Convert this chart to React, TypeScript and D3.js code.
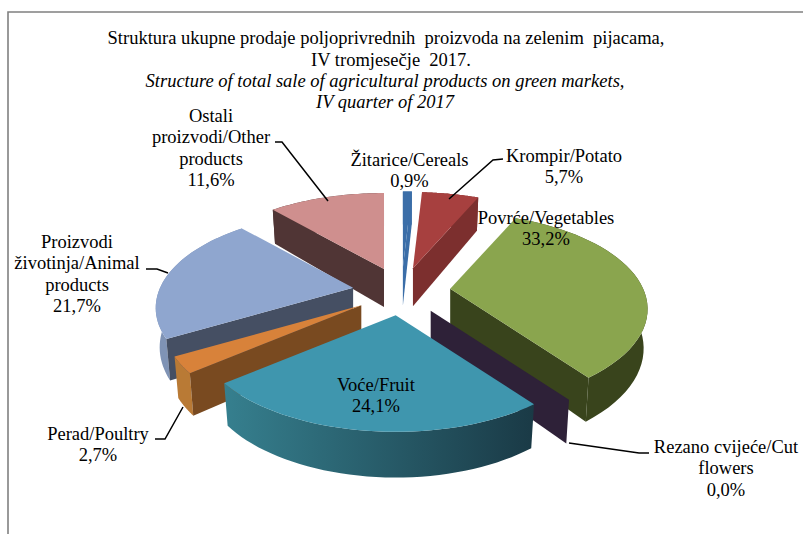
import React from "react";
import * as d3 from "d3";

const W = 803, H = 534;
const categories = ["Žitarice/Cereals", "Krompir/Potato", "Povrće/Vegetables", "Rezano cvijeće/Cut flowers", "Voće/Fruit", "Perad/Poultry", "Proizvodi životinja/Animal products", "Ostali proizvodi/Other products"];
const shares = [0.9, 5.7, 33.2, 0.0, 24.1, 2.7, 21.7, 11.6];
const topColors = ["#3b6ea8", "#a7403f", "#8aa54e", "#2e2138", "#3f96ae", "#d8823a", "#8fa6cf", "#cf8f8e"];
const faceColors = ["#3b6ea8", "#7c2f2e", "#39441c", "#2e2138", "#2f7488", "#794a20", "#454f63", "#503535"];
const rimColors = ["#3b6ea8", "#7c2f2e", "#39441c", "#2e2138", "url(#tealRim)", "#b97a35", "#7f93b5", "#503535"];
const drawOrder = [7, 0, 1, 2, 3, 6, 5, 4];
const titleLines = [
  { t: "Struktura ukupne prodaje poljoprivrednih  proizvoda na zelenim  pijacama,", x: 386, y: 44, i: false },
  { t: "IV tromjesečje  2017.", x: 391, y: 66, i: false },
  { t: "Structure of total sale of agricultural products on green markets,", x: 385, y: 87, i: true },
  { t: "IV quarter of 2017", x: 385, y: 108, i: true },
];
const labels = [
  { x: 211, y: 122, lines: ["Ostali", "proizvodi/Other", "products", "11,6%"] },
  { x: 409.5, y: 166, lines: ["Žitarice/Cereals", "0,9%"] },
  { x: 564, y: 162, lines: ["Krompir/Potato", "5,7%"] },
  { x: 546, y: 224, lines: ["Povrće/Vegetables", "33,2%"] },
  { x: 376, y: 391, lines: ["Voće/Fruit", "24,1%"] },
  { x: 77, y: 248, lines: ["Proizvodi", "životinja/Animal", "products", "21,7%"] },
  { x: 98, y: 440, lines: ["Perad/Poultry", "2,7%"] },
  { x: 726, y: 453, lines: ["Rezano cvijeće/Cut", "flowers", "0,0%"] },
];
const leaders: [number, number][][] = [
  [[275, 142], [282, 142], [328, 201]],
  [[503, 159], [493, 160], [449, 199]],
  [[146, 269], [157, 269], [168, 273]],
  [[155, 439], [165, 439], [183, 407]],
  [[569, 443], [639, 453], [649, 453]],
];

const centerX = 401.5, centerY = 291.5, explodeX = 49, explodeY = 24;
const rx = 193, ry = 92, persp = 0.21, depth = 38;

const pie = d3.pie<number>().sort(null).startAngle(0).endAngle(2 * Math.PI);
const arcs = pie(shares);
const unit = (a: number) => [Math.sin(a), -Math.cos(a)];
const scaleAt = (v: number) => 1 / (1 - persp * v);
const line = d3.line();

function slice(i: number) {
  const a = arcs[i];
  const mid = (a.startAngle + a.endAngle) / 2;
  const [mu, mv] = unit(mid);
  const tx = centerX + explodeX * mu, ty = centerY + explodeY * mv;
  const top = (t: number): [number, number] => {
    const [u, v] = unit(t);
    const s = scaleAt(v);
    return [tx + rx * u * s, ty + ry * v * s];
  };
  const bottom = (t: number): [number, number] => {
    const [u, v] = unit(t);
    const s = scaleAt(v);
    return [tx + rx * u * s * 0.98, ty + ry * v * s * 0.98 + depth * s];
  };
  const steps = d3.range(0, 41).map((k) => a.startAngle + ((a.endAngle - a.startAngle) * k) / 40);
  const tipB: [number, number] = [tx, ty + depth];
  const topPts: [number, number][] = [[tx, ty], ...steps.map(top)];
  const rim: [number, number][] = [...steps.map(top), ...steps.slice().reverse().map(bottom)];
  const face = (t: number): [number, number][] => [[tx, ty], top(t), bottom(t), tipB];
  const faces: [number, number][][] = [];
  if (Math.sin(a.startAngle) < 0) faces.push(face(a.startAngle));
  if (Math.sin(a.endAngle) > 0) faces.push(face(a.endAngle));
  return { topPts, rim, faces };
}

const serif = "'Liberation Serif', serif";
const fontSize = 18.5;

export default function App() {
  return (
    <svg width={W} height={H} viewBox={`0 0 ${W} ${H}`} style={{ position: "absolute", left: 0, top: 0, background: "#fff" }}>
      <defs>
        <linearGradient id="tealRim" gradientUnits="userSpaceOnUse" x1={222} x2={533} y1={0} y2={0}>
          <stop offset="0" stopColor="#36808f" />
          <stop offset="1" stopColor="#1a3a46" />
        </linearGradient>
      </defs>
      <path d="M8 534V12H803" fill="none" stroke="#808080" strokeWidth={1.6} />
      {drawOrder.map((i) => {
        const s = slice(i);
        return (
          <g key={categories[i]}>
            <path d={line(s.rim)! + "Z"} fill={rimColors[i]} />
            {s.faces.map((f, k) => (
              <path key={k} d={line(f)! + "Z"} fill={faceColors[i]} />
            ))}
            <path d={line(s.topPts)! + "Z"} fill={topColors[i]} />
          </g>
        );
      })}
      {leaders.map((p, i) => (
        <path key={i} d={line(p)!} fill="none" stroke="#000" strokeWidth={1.5} />
      ))}
      {titleLines.map((l) => (
        <text key={l.t} x={l.x} y={l.y} textAnchor="middle" fontFamily={serif} fontSize={fontSize} fontStyle={l.i ? "italic" : "normal"} style={{ whiteSpace: "pre" }} fill="#000">{l.t}</text>
      ))}
      {labels.map((l) => (
        <text key={l.lines[0]} textAnchor="middle" fontFamily={serif} fontSize={fontSize} fill="#000">
          {l.lines.map((t, k) => (
            <tspan key={k} x={l.x} y={l.y + k * 21.3}>{t}</tspan>
          ))}
        </text>
      ))}
    </svg>
  );
}
